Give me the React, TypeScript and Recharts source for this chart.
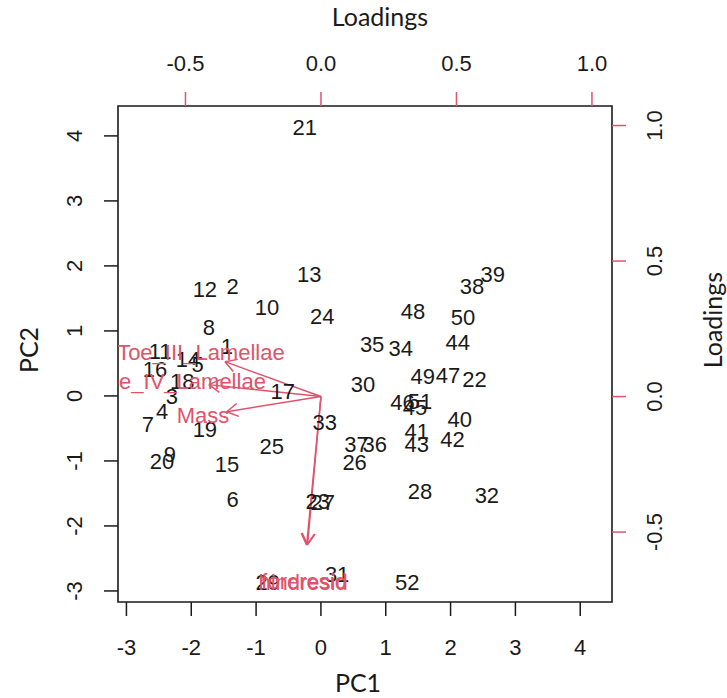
import React from 'react';
import { ScatterChart, Scatter, XAxis, YAxis, ReferenceLine, ReferenceArea, Label } from 'recharts';

// PCA biplot: observation scores (black numbers) and variable loadings (red arrows)

const obsIds = [
  '1', '2', '3', '4', '5', '6', '7', '8', '9', '10',
  '11', '12', '13', '14', '15', '16', '17', '18', '19', '20',
  '21', '22', '23', '24', '25', '26', '27', '28', '29', '30',
  '31', '32', '33', '34', '35', '36', '37', '38', '39', '40',
  '41', '42', '43', '44', '45', '46', '47', '48', '49', '50',
  '51', '52',
];
const pc1Scores = [
  -1.45, -1.36, -2.30, -2.45, -1.90, -1.36, -2.67, -1.73, -2.33, -0.83,
  -2.48, -1.79, -0.18, -2.05, -1.45, -2.56, -0.59, -2.14, -1.79, -2.45,
  -0.25, 2.37, -0.05, 0.02, -0.76, 0.52, 0.03, 1.53, -0.82, 0.65,
  0.25, 2.56, 0.06, 1.23, 0.79, 0.83, 0.55, 2.33, 2.65, 2.14,
  1.48, 2.03, 1.48, 2.11, 1.45, 1.26, 1.96, 1.42, 1.57, 2.19,
  1.53, 1.33,
];
const pc2Scores = [
  0.76, 1.68, -0.01, -0.24, 0.48, -1.59, -0.44, 1.05, -0.90, 1.36,
  0.68, 1.64, 1.87, 0.56, -1.05, 0.41, 0.07, 0.22, -0.52, -1.01,
  4.13, 0.25, -1.62, 1.22, -0.78, -1.02, -1.64, -1.47, -2.87, 0.18,
  -2.75, -1.53, -0.41, 0.73, 0.79, -0.75, -0.75, 1.68, 1.87, -0.36,
  -0.55, -0.67, -0.75, 0.82, -0.18, -0.10, 0.32, 1.30, 0.30, 1.21,
  -0.08, -2.87,
];

const varNames = ['Toe_III_Lamellae', 'Toe_IV_Lamellae', 'Mass', 'hindresid', 'foreresid'];
const varPC1 = [-0.443, -0.517, -0.435, -0.066, -0.062];
const varPC2 = [0.161, 0.055, -0.070, -0.685, -0.683];

const pcTicks = [-3, -2, -1, 0, 1, 2, 3, 4];
const loadTicks = [-0.5, 0, 0.5, 1];

const scores = obsIds.map((id, i) => ({ id, x: pc1Scores[i], y: pc2Scores[i] }));
const loadings = varNames.map((name, i) => ({ name, x: varPC1[i], y: varPC2[i] }));

const W = 727;
const H = 698;
const PLOT = { left: 118, top: 106, right: 612, bottom: 602 };
const PC_X: [number, number] = [-3.13, 4.49];
const PC_Y: [number, number] = [-3.17, 4.46];
const LD_X: [number, number] = [-0.749, 1.074];
const LD_Y: [number, number] = [-0.758, 1.072];

const RED = '#DF536B';
const INK = '#1a1a1a';
const NUM_FONT = '"Liberation Sans", Arial, sans-serif';
const TITLE_FONT = 'Lato, "Open Sans", sans-serif';
const FS = 22;

const BottomTick = ({ x, y, payload }: any) => (
  <text x={x} y={y + 39} textAnchor="middle" fontSize={FS} fontFamily={NUM_FONT} fill={INK}>
    {payload.value}
  </text>
);

const TopTick = ({ x, y, payload }: any) => (
  <text x={x} y={y - 21} textAnchor="middle" fontSize={FS} fontFamily={NUM_FONT} fill={INK}>
    {Number(payload.value).toFixed(1)}
  </text>
);

const LeftTick = ({ x, y, payload }: any) => {
  const cx = x - 29;
  return (
    <text x={cx} y={y} textAnchor="middle" dominantBaseline="central" fontSize={FS}
      fontFamily={NUM_FONT} fill={INK} transform={`rotate(-90 ${cx} ${y})`}>
      {payload.value}
    </text>
  );
};

const RightTick = ({ x, y, payload }: any) => {
  const cx = x + 29;
  return (
    <text x={cx} y={y} textAnchor="middle" dominantBaseline="central" fontSize={FS}
      fontFamily={NUM_FONT} fill={INK} transform={`rotate(-90 ${cx} ${y})`}>
      {Number(payload.value).toFixed(1)}
    </text>
  );
};

const ScoreLabel = ({ cx, cy, payload }: any) => (
  <text x={cx} y={cy} textAnchor="middle" dominantBaseline="central" fontSize={FS}
    fontFamily={NUM_FONT} fill={INK}>
    {payload.id}
  </text>
);

// variable names sit at the full loading, clipped to the plot box like base graphics
const VarLabel = ({ cx, cy, payload, index }: any) => {
  const id = `varclip-${index}`;
  return (
    <g>
      <defs>
        <clipPath id={id}>
          <rect x={PLOT.left} y={PLOT.top} width={PLOT.right - PLOT.left} height={PLOT.bottom - PLOT.top} />
        </clipPath>
      </defs>
      <text x={cx} y={cy} textAnchor="middle" dominantBaseline="central" fontSize={FS}
        fontFamily={NUM_FONT} fill={RED} clipPath={`url(#${id})`}>
        {payload.name}
      </text>
    </g>
  );
};

const Arrow = ({ x1, y1, x2, y2 }: any) => {
  const ang = Math.atan2(y2 - y1, x2 - x1);
  const len = 13;
  const spread = Math.PI / 6;
  const h1 = ang + Math.PI - spread;
  const h2 = ang + Math.PI + spread;
  return (
    <g stroke={RED} strokeWidth={1.5} fill="none">
      <line x1={x1} y1={y1} x2={x2} y2={y2} />
      <line x1={x2} y1={y2} x2={x2 + len * Math.cos(h1)} y2={y2 + len * Math.sin(h1)} />
      <line x1={x2} y1={y2} x2={x2 + len * Math.cos(h2)} y2={y2 + len * Math.sin(h2)} />
    </g>
  );
};

const titleStyle = { fontSize: 25, fontFamily: TITLE_FONT, fill: INK };

export default function App() {
  return (
    <div style={{ position: 'absolute', left: 0, top: 0, width: W, height: H, background: '#fff' }}>
      <ScatterChart width={W} height={H} margin={{ top: 0, right: 0, bottom: 0, left: 0 }}>
        <XAxis xAxisId="pc" type="number" dataKey="x" orientation="bottom" height={96}
          domain={PC_X} ticks={pcTicks} allowDataOverflow axisLine={false}
          tickSize={14} tickMargin={0} tickLine={{ stroke: INK, strokeWidth: 1.5 }} tick={<BottomTick />}>
          <Label content={() => (
            <text x={358} y={692} textAnchor="middle" {...titleStyle}>PC1</text>
          )} />
        </XAxis>
        <XAxis xAxisId="ld" type="number" dataKey="x" orientation="top" height={106}
          domain={LD_X} ticks={loadTicks} allowDataOverflow axisLine={false}
          tickSize={14} tickMargin={0} tickLine={{ stroke: RED, strokeWidth: 1.5 }} tick={<TopTick />}>
          <Label content={() => (
            <text x={380} y={26} textAnchor="middle" {...titleStyle}>Loadings</text>
          )} />
        </XAxis>
        <YAxis yAxisId="pc" type="number" dataKey="y" orientation="left" width={118}
          domain={PC_Y} ticks={pcTicks} allowDataOverflow axisLine={false}
          tickSize={14} tickMargin={0} tickLine={{ stroke: INK, strokeWidth: 1.5 }} tick={<LeftTick />}>
          <Label content={() => (
            <text x={28} y={350} textAnchor="middle" dominantBaseline="central"
              transform="rotate(-90 28 350)" {...titleStyle}>PC2</text>
          )} />
        </YAxis>
        <YAxis yAxisId="ld" type="number" dataKey="y" orientation="right" width={115}
          domain={LD_Y} ticks={loadTicks} allowDataOverflow axisLine={false}
          tickSize={14} tickMargin={0} tickLine={{ stroke: RED, strokeWidth: 1.5 }} tick={<RightTick />}>
          <Label content={() => (
            <text x={712} y={320} textAnchor="middle" dominantBaseline="central"
              transform="rotate(-90 712 320)" {...titleStyle}>Loadings</text>
          )} />
        </YAxis>

        <ReferenceArea xAxisId="pc" yAxisId="pc" x1={PC_X[0]} x2={PC_X[1]} y1={PC_Y[0]} y2={PC_Y[1]}
          ifOverflow="visible" fill="none" fillOpacity={0} stroke={INK} strokeWidth={1.6} />

        <Scatter data={scores} xAxisId="pc" yAxisId="pc" shape={<ScoreLabel />} isAnimationActive={false} />

        {loadings.map((v) => (
          <ReferenceLine key={v.name} xAxisId="ld" yAxisId="ld" ifOverflow="visible"
            segment={[{ x: 0, y: 0 }, { x: v.x * 0.8, y: v.y * 0.8 }]} shape={<Arrow />} />
        ))}

        <Scatter data={loadings} xAxisId="ld" yAxisId="ld" shape={<VarLabel />} isAnimationActive={false} />
      </ScatterChart>
    </div>
  );
}
